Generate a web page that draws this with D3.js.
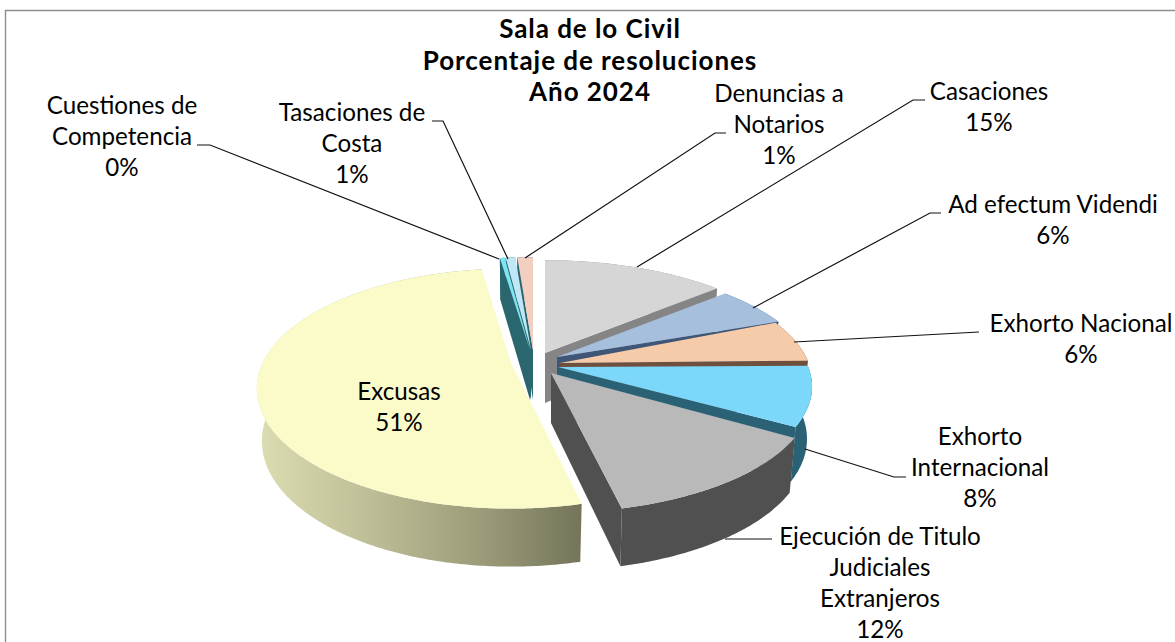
<!DOCTYPE html>
<html><head><meta charset="utf-8">
<script src="https://cdnjs.cloudflare.com/ajax/libs/d3/7.9.0/d3.min.js"></script>
<style>html,body{margin:0;padding:0;background:#fff}svg{display:block}text{font-family:Lato,"Open Sans",sans-serif;fill:#000}</style>
</head><body><svg id="c" width="1175" height="642"></svg>
<script>
// ---- data ----
const categories = ["Casaciones","Ad efectum Videndi","Exhorto Nacional","Exhorto Internacional","Ejecución de Titulo Judiciales Extranjeros","Excusas","Cuestiones de Competencia","Tasaciones de Costa","Denuncias a Notarios"];
const values = [15, 6, 6, 8, 11.7, 50.8, 0.4, 0.8, 1.3];
const titleLines = ["Sala de lo Civil","Porcentaje de resoluciones","Año 2024"];
const labelLines = [["Casaciones"],["Ad efectum Videndi"],["Exhorto Nacional"],["Exhorto","Internacional"],["Ejecución de Titulo","Judiciales","Extranjeros"],["Excusas"],["Cuestiones de","Competencia"],["Tasaciones de","Costa"],["Denuncias a","Notarios"]];
// ---- styles ----
const topColors  = ["#d6d6d6","#a6bfdd","#f5cba9","#7bd8fb","#b9b9b9","#fafbc9","#7fe3f2","#c0e7f5","#f3cfc2"];
const wallColors = ["#858585","#3f5677","#6f4f3d","#2b6175","#505050","url(#excusasWall)","#2a666e","#2a666e","#2a666e"];
// ---- layout ----
const base = {x:545, y:362};
const explode = [[0,-9],[12,-5],[15,1],[13,5],[6,11],[-34,1],[-15,-12],[-14,-12],[-12,-12]];
// small per-slice corrections of the rim: [shift x, shift y, scale x, scale y]
const rimAdjust = [[0,-2,1,1],[-4,-1,1,1],[-10,-6,1,1],[-8,-5,1,1],[-2,0,1,1],[0,0,0.97,1.04],[0,-2,1,1],[0,-2,1,1],[0,-2,1,1]];
const drawOrder = [8,7,6,0,1,2,3,4,5];
const labelPos = [[989,100,31],[1053,213,31],[1081,332,31],[980,445,31],[880,545,31],[399,400,31],[122,114,31],[352,121,31],[779,102,31]];
const leaders = [
 [[925,100],[913,100],[637,267]],
 [[941,213],[930,213],[753,308]],
 [[979,332],[794,342]],
 [[906,477],[894,477],[805,449]],
 [[772,539],[725,539]],
 null,
 [[197,145],[210,145],[499,259]],
 [[432,121],[443,121],[508,259]],
 [[726,133],[715,133],[525,258]]
];
const persp = 0.3;
const xR = d3.scaleLinear().domain([-1,1]).range([-250,250]);
const yR = d3.scaleLinear().domain([-1,1]).range([-105,105]);
const wallH = d3.scaleLinear().domain([-1,1]).range([42,58]);
const rimLift = -10, bottomInset = 0.98;

const svg = d3.select("#c");
const defs = svg.append("defs");
const grad = defs.append("linearGradient").attr("id","excusasWall").attr("gradientUnits","userSpaceOnUse")
  .attr("x1",262).attr("x2",582).attr("y1",0).attr("y2",0);
[[0,"#dcdcb2"],[0.35,"#bcbc96"],[0.7,"#9a9a78"],[1,"#74745a"]].forEach(s=>grad.append("stop").attr("offset",s[0]).attr("stop-color",s[1]));

// frame (only the top and left edges fall inside the picture)
svg.append("path").attr("d",d3.line()([[5.5,700],[5.5,10.5],[1200,10.5]])).attr("fill","none").attr("stroke","#8e8e8e").attr("stroke-width",1.4);

const arcs = d3.pie().sort(null).value(d=>d)(values);
const line = d3.line();
function rim(t,i){const X=Math.sin(t),Z=-Math.cos(t),s=1/(1-persp*Z),r=rimAdjust[i];
  return [r[0]+r[2]*xR(X*s),r[1]+r[3]*(rimLift+yR(Z*s)),Z];}
function rimTop(t,o,i){const p=rim(t,i);return [o.x+p[0],o.y+p[1]];}
function rimBot(t,o,i){const p=rim(t,i);return [o.x+p[0]*bottomInset,o.y+p[1]+wallH(p[2])];}
function sweep(a){const n=Math.max(2,Math.ceil((a.endAngle-a.startAngle)/0.01));return d3.range(n+1).map(i=>a.startAngle+(a.endAngle-a.startAngle)*i/n);}

const g = svg.append("g");
drawOrder.forEach(i=>{
  const a=arcs[i], o={x:base.x+explode[i][0],y:base.y+explode[i][1]};
  const apexB=[o.x,o.y+wallH(0)], ts=sweep(a);
  const edge=t=>line([[o.x,o.y],rimTop(t,o,i),rimBot(t,o,i),apexB])+"Z";
  // cut faces that look toward the viewer
  if(Math.sin(a.startAngle)<0) g.append("path").attr("d",edge(a.startAngle)).attr("fill",wallColors[i]);
  if(Math.sin(a.endAngle)>0) g.append("path").attr("d",edge(a.endAngle)).attr("fill",wallColors[i]);
  // outer wall
  g.append("path").attr("d",line(ts.map(t=>rimTop(t,o,i)).concat(ts.slice().reverse().map(t=>rimBot(t,o,i))))+"Z").attr("fill",wallColors[i]);
  // top face
  g.append("path").attr("d",line([[o.x,o.y]].concat(ts.map(t=>rimTop(t,o,i))))+"Z").attr("fill",topColors[i]);
});

// leaders
leaders.forEach(l=>{ if(l) svg.append("path").attr("d",line(l)).attr("fill","none").attr("stroke","#111").attr("stroke-width",1.2); });

// labels
const fs=24.2;
labelLines.forEach((ls,i)=>{
  const [x,y,dy]=labelPos[i];
  const t=svg.append("text").attr("text-anchor","middle").attr("font-size",fs);
  ls.concat([Math.round(values[i])+"%"]).forEach((s,j)=>t.append("tspan").attr("x",x).attr("y",y+j*dy).text(s));
});
// title
const tt=svg.append("text").attr("text-anchor","middle").attr("font-size",26).attr("font-weight",700).attr("letter-spacing",0.95);
titleLines.forEach((s,j)=>tt.append("tspan").attr("x",590).attr("y",38+j*31.5).text(s));
</script></body></html>
